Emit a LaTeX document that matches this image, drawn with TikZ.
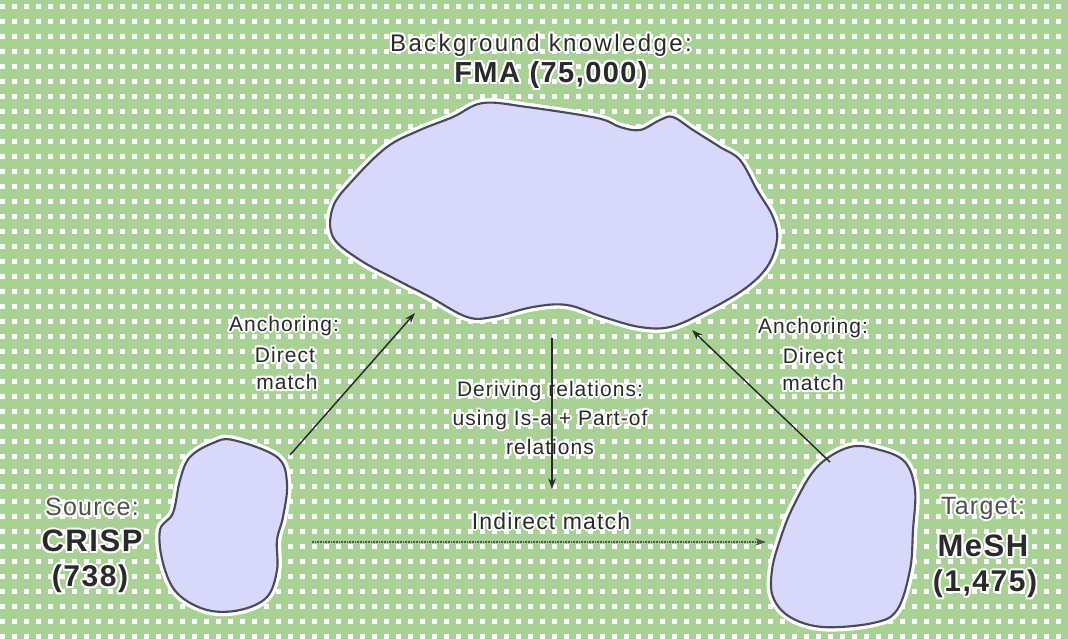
\documentclass[tikz,border=0pt]{standalone}
\usepackage{fontspec}
\setmainfont{Liberation Sans}
\newfontfamily\lsans[LetterSpace=5]{Liberation Sans}
\newfontfamily\lsansw[LetterSpace=10]{Liberation Sans}
\usetikzlibrary{arrows.meta,patterns}
\definecolor{bggreen}{HTML}{A9D196}
\definecolor{blobfill}{HTML}{D8D8FA}
\definecolor{blobline}{HTML}{4A4A5A}
\definecolor{ink}{HTML}{2A2A2A}
\definecolor{softink}{HTML}{505050}
\pgfdeclarepatternformonly{whsq}{\pgfqpoint{0pt}{0pt}}{\pgfqpoint{4pt}{4pt}}{\pgfqpoint{9pt}{11.25pt}}{%
  \pgfpathrectangle{\pgfqpoint{0pt}{0pt}}{\pgfqpoint{4pt}{4pt}}\pgfusepath{fill}}
\newcommand\hlcopies{%
  \rlap{\kern1.6pt\copy0}\rlap{\kern-1.6pt\copy0}%
  \rlap{\raise1.6pt\copy0}\rlap{\lower1.6pt\copy0}%
  \rlap{\kern1.15pt\raise1.15pt\copy0}\rlap{\kern-1.15pt\raise1.15pt\copy0}%
  \rlap{\kern1.15pt\lower1.15pt\copy0}\rlap{\kern-1.15pt\lower1.15pt\copy0}}
\newcommand\halo[1]{{\setbox0\hbox{#1}\leavevmode\rlap{\color{white}\hlcopies}\box0}}
\begin{document}
\begin{tikzpicture}[x=0.75pt,y=-0.75pt,
  blob/.style={fill=blobfill,draw=blobline,line width=1.6pt,
    preaction={draw=white,line width=6.5pt}},
  conn/.style={draw=ink,line width=1.1pt,-{Stealth[length=8pt,width=5.5pt]}},
  dotconn/.style={draw=softink,line width=1.1pt,dash pattern=on 1.2pt off 0.8pt,
    -{Stealth[length=8pt,width=5.5pt]}},
  lbl/.style={inner sep=0pt,text=ink},
  fbk/.style={font=\lsansw\fontsize{18pt}{20pt}\selectfont},
  fbig/.style={font=\lsans\bfseries\fontsize{21.75pt}{24pt}\selectfont},
  fmid/.style={font=\lsans\fontsize{15.75pt}{18pt}\selectfont},
  find/.style={font=\lsans\fontsize{17.25pt}{19pt}\selectfont},
  fst/.style={font=\lsans\fontsize{18.75pt}{21pt}\selectfont,text=softink},
  fname/.style={font=\lsans\bfseries\fontsize{23.25pt}{26pt}\selectfont},
  fnum/.style={font=\lsans\bfseries\fontsize{22.5pt}{25pt}\selectfont}]
\useasboundingbox (0,0) rectangle (1068,639);
\fill[bggreen] (0,0) rectangle (1068,639);
\fill[pattern=whsq,pattern color=white] (0,0) rectangle (1068,639);

% blobs
\draw[blob] plot[smooth cycle,tension=0.6] coordinates {
 (483,103) (527,107) (597,118) (620,127) (640,130) (660,120) (673,117) (693,130)
 (720,147) (740,160) (757,190) (773,217) (777,240) (767,267) (743,290) (703,313)
 (670,327) (640,327) (603,317) (567,305) (533,307) (493,317) (467,317) (430,297)
 (397,280) (360,260) (333,237) (333,207) (353,180) (387,147) (420,130) (453,117)};
\draw[blob] plot[smooth cycle,tension=0.6] coordinates {
 (233,440) (277,457) (287,483) (283,517) (277,540) (277,570) (267,597) (240,610)
 (207,610) (177,593) (163,563) (160,530) (173,513) (180,480) (190,457) (213,443)};
\draw[blob] plot[smooth cycle,tension=0.6] coordinates {
 (850,447) (880,450) (905,462) (915,490) (913,530) (910,570) (897,610) (873,623)
 (823,627) (790,617) (773,597) (772,570) (780,540) (793,507) (817,467)};

% labels
\node[lbl,fbk] (bk) at (541,45) {\halo{Background knowledge:}};
\node[lbl,fbig] (fma) at (551,75) {\halo{FMA (75,000)}};

\node[lbl,fmid] (la1) at (284,326) {\halo{Anchoring:}};
\node[lbl,fmid] (la2) at (285,355) {\halo{Direct}};
\node[lbl,fmid] (la3) at (287,382) {\halo{match}};

\node[lbl,fmid] (ra1) at (813,328) {\halo{Anchoring:}};
\node[lbl,fmid] (ra2) at (813,356) {\halo{Direct}};
\node[lbl,fmid] (ra3) at (813,383) {\halo{match}};

\node[lbl,fmid] (d1) at (550,391) {\halo{Deriving relations:}};
\node[lbl,fmid] (d2) at (550,420) {\halo{using Is-a + Part-of}};
\node[lbl,fmid] (d3) at (550,447) {\halo{relations}};

\node[lbl,find] (ind) at (551,521) {\halo{Indirect match}};

\node[lbl,fst] (src) at (92,507) {\halo{Source:}};
\node[lbl,fname] (crisp) at (92,541) {\halo{CRISP}};
\node[lbl,fnum] (ncrisp) at (90,579) {\halo{(738)}};

\node[lbl,fst] (tgt) at (983,508) {\halo{Target:}};
\node[lbl,fname] (mesh) at (983,546) {\halo{MeSH}};
\node[lbl,fnum] (nmesh) at (985,584) {\halo{(1,475)}};

% connectors
\coordinate (a1s) at (290,455); \coordinate (a1e) at (415,313);
\coordinate (a2s) at (830,462); \coordinate (a2e) at (692,330);
\coordinate (vs) at (552,338);  \coordinate (ve) at (552,489);
\coordinate (hs) at (312,542);  \coordinate (he) at (766,542);
\draw[conn] (a1s) -- (a1e);
\draw[conn] (a2s) -- (a2e);
\draw[conn] (vs) -- (ve);
\draw[dotconn] (hs) -- (he);
\end{tikzpicture}
\end{document}
